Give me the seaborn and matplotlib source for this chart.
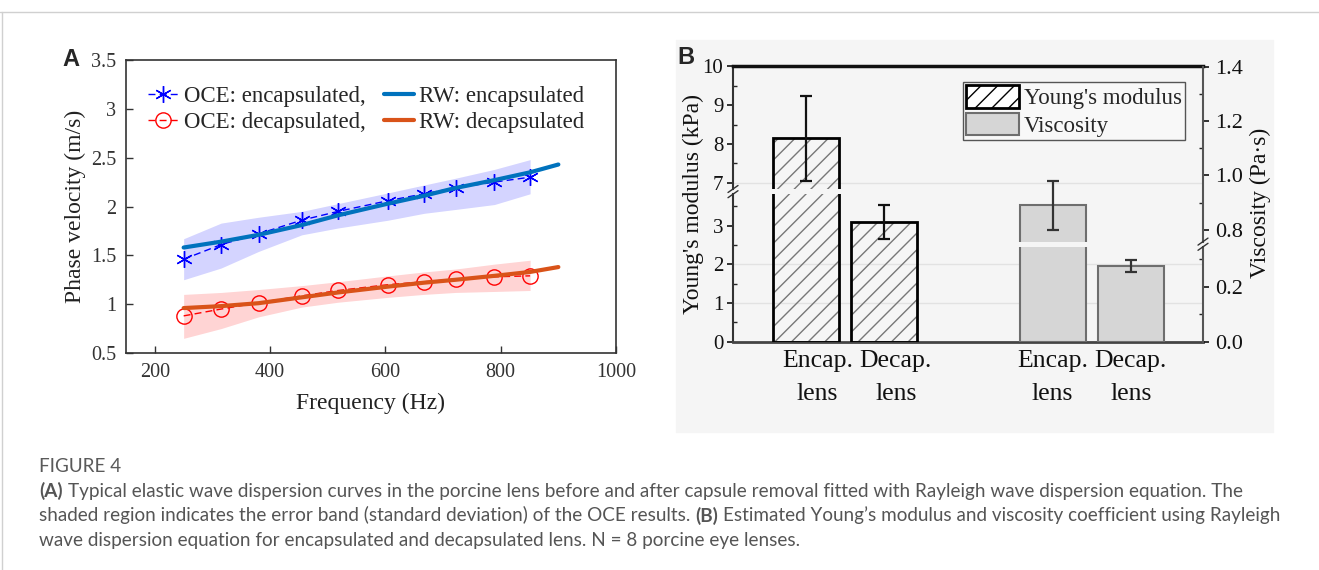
import numpy as np
import pandas as pd
import seaborn as sns
import matplotlib.pyplot as plt
from matplotlib.lines import Line2D
from matplotlib.patches import Patch, Rectangle
from matplotlib.ticker import FuncFormatter

# ---- panel A: dispersion curves ----
freq = [250, 315, 380, 455, 518, 605, 667, 722, 789, 851]
oce_enc = [1.46, 1.61, 1.72, 1.86, 1.95, 2.06, 2.13, 2.19, 2.25, 2.30]
oce_enc_hi = [1.67, 1.83, 1.89, 1.95, 2.03, 2.14, 2.22, 2.29, 2.38, 2.48]
oce_enc_lo = [1.25, 1.37, 1.54, 1.71, 1.78, 1.86, 1.93, 1.97, 2.02, 2.13]
oce_dec = [0.88, 0.95, 1.015, 1.085, 1.14, 1.20, 1.23, 1.255, 1.28, 1.29]
oce_dec_hi = [1.10, 1.12, 1.15, 1.19, 1.23, 1.29, 1.33, 1.36, 1.41, 1.45]
oce_dec_lo = [0.65, 0.75, 0.87, 0.97, 1.02, 1.07, 1.10, 1.12, 1.13, 1.14]
rw_freq = [250, 315, 380, 455, 518, 605, 667, 722, 789, 851, 900]
rw_enc = [1.58, 1.64, 1.71, 1.81, 1.91, 2.03, 2.11, 2.19, 2.27, 2.35, 2.43]
rw_dec = [0.96, 0.98, 1.01, 1.07, 1.12, 1.18, 1.22, 1.25, 1.29, 1.33, 1.38]

# ---- panel B: moduli ----
bar_labels = ['Encap.\nlens', 'Decap.\nlens', 'Encap.\nlens', 'Decap.\nlens']
youngs = [8.15, 3.10]
youngs_err = [1.10, 0.44]
visc = [0.89, 0.275]
visc_err = [0.09, 0.022]
grid_lines = [1, 2, 7]

caption_title = 'FIGURE 4'
caption_lines = [
    [('(A)', True), ('Typical elastic wave dispersion curves in the porcine lens before and after capsule removal fitted with Rayleigh wave dispersion equation. The', False)],
    [('shaded region indicates the error band (standard deviation) of the OCE results.', False), ('(B)', True),
     ('Estimated Young\u2019s modulus and viscosity coefficient using Rayleigh', False)],
    [('wave dispersion equation for encapsulated and decapsulated lens. N = 8 porcine eye lenses.', False)],
]

sns.set_theme(style='white')
plt.rcParams['font.family'] = ['Liberation Serif', 'DejaVu Serif']
plt.rcParams['hatch.linewidth'] = 1.0

W, H = 1319, 570
fig = plt.figure(figsize=(W / 100, H / 100), dpi=100)


def px_box(l, t, r, b):
    return [l / W, 1 - b / H, (r - l) / W, (b - t) / H]


# page frame + panel B background
fig.add_artist(Line2D([0, 1], [1 - 12 / H] * 2, color='#d0d0d0', lw=1))
fig.add_artist(Line2D([1.5 / W] * 2, [0, 1 - 12 / H], color='#d0d0d0', lw=1))
fig.add_artist(Rectangle((676 / W, 1 - 432 / H), 597 / W, 392 / H, color='#f5f5f5', zorder=-5))

# ================= panel A =================
axA = fig.add_axes(px_box(126, 60, 616, 353))
axA.fill_between(freq, oce_enc_lo, oce_enc_hi, color='#0000ff', alpha=0.17, lw=0)
axA.fill_between(freq, oce_dec_lo, oce_dec_hi, color='#ff0000', alpha=0.17, lw=0)
sns.lineplot(x=freq, y=oce_enc, ax=axA, color='blue', linestyle=(0, (5, 3)), lw=1,
             marker=(6, 2, 0), markersize=12, markeredgecolor='blue', markeredgewidth=1,
             label='OCE: encapsulated,')
sns.lineplot(x=freq, y=oce_dec, ax=axA, color='red', linestyle=(0, (5, 3)), lw=1,
             marker='o', markersize=11, markerfacecolor='none', markeredgecolor='red',
             markeredgewidth=1, label='OCE: decapsulated,')
sns.lineplot(x=rw_freq, y=rw_enc, ax=axA, color='#0072BD', lw=3, label='RW: encapsulated')
sns.lineplot(x=rw_freq, y=rw_dec, ax=axA, color='#D95319', lw=3, label='RW: decapsulated')

axA.set_xlim(150, 1000)
axA.set_ylim(0.5, 3.5)
axA.set_xticks([200, 400, 600, 800, 1000])
axA.set_yticks(np.arange(0.5, 3.51, 0.5))
axA.yaxis.set_major_formatter(FuncFormatter(lambda v, p: '%g' % v))
axA.tick_params(axis='both', which='major', direction='in', length=5, width=1,
                bottom=True, left=True, labelsize=14.5, colors='#333', pad=7)
for s in axA.spines.values():
    s.set_color('#333')
    s.set_linewidth(1.2)
axA.set_xlabel('Frequency (Hz)', fontsize=17, color='#222', va='center')
axA.xaxis.set_label_coords(0.5, (353 - 403) / 293)
axA.set_ylabel('Phase velocity (m/s)', fontsize=17, color='#222', va='center')
axA.yaxis.set_label_coords((75 - 126) / 490, 0.5)

h, l = axA.get_legend_handles_labels()
axA.legend(h, l, ncol=2, loc='upper left', bbox_to_anchor=(148 / W, 1 - 86 / H),
           bbox_transform=fig.transFigure, frameon=False, fontsize=16.5,
           handlelength=1.3, handletextpad=0.25, columnspacing=0.8,
           labelspacing=0.22, borderpad=0, borderaxespad=0)

fig.text(62 / W, 1 - 65.5 / H, 'A', fontsize=17, fontweight='bold',
         family='Liberation Sans', va='baseline')

# ================= panel B (broken axes) =================
bar_x = [0.93, 1.93, 4.08, 5.08]
tick_x = [1.08, 2.08, 4.08, 5.08]
bar_w = 0.84

ax_yl = fig.add_axes(px_box(733, 194, 1203, 341.7))
ax_yu = fig.add_axes(px_box(733, 66.5, 1203, 189.3))
ax_vl = fig.add_axes(px_box(733, 246.7, 1203, 341.7))
ax_vu = fig.add_axes(px_box(733, 66.5, 1203, 241.7))
axes_b = [ax_yl, ax_yu, ax_vl, ax_vu]

ax_yl.set_ylim(0, 3.817)
ax_yu.set_ylim(6.835, 10)
ax_vl.set_ylim(0, 0.3455)
ax_vu.set_ylim(0.757, 1.4)

for ax in axes_b:
    ax.set_xlim(0, 6)
    ax.patch.set_visible(False)
    for s in ax.spines.values():
        s.set_visible(False)
    ax.tick_params(axis='x', bottom=False, labelbottom=False)

for ax in (ax_yl, ax_yu):
    for g in grid_lines:
        ax.axhline(g, color='#e2e2e2', lw=1, zorder=0)
    ax.bar(bar_x[:2], youngs, bar_w, color='none', edgecolor='#777', hatch='//', lw=0, zorder=2)
    ax.bar(bar_x[:2], youngs, bar_w, fill=False, edgecolor='black', lw=2, zorder=3)
    ax.errorbar(bar_x[:2], youngs, yerr=youngs_err, fmt='none', ecolor='#111',
                elinewidth=1.6, capsize=4, capthick=1.6, zorder=4)
    ax.spines['left'].set_visible(True)
    ax.spines['left'].set_color('#333')
    ax.spines['left'].set_linewidth(1.5)
    ax.tick_params(axis='y', which='major', direction='out', length=4, width=1.2,
                   left=True, labelsize=15, colors='#111', pad=3)
    ax.tick_params(axis='y', which='minor', direction='in', length=3, width=1, left=True)

ax_yl.set_yticks([0, 1, 2, 3])
ax_yl.set_yticks([0.5, 1.5, 2.5, 3.5], minor=True)
ax_yu.set_yticks([7, 8, 9, 10])
ax_yu.set_yticks([7.5, 8.5, 9.5], minor=True)
ax_yl.spines['bottom'].set_visible(True)
ax_yl.spines['bottom'].set_color('#444')
ax_yl.spines['bottom'].set_linewidth(2)
ax_yu.spines['top'].set_visible(True)
ax_yu.spines['top'].set_color('#111')
ax_yu.spines['top'].set_linewidth(2.5)

for ax in (ax_vl, ax_vu):
    ax.bar(bar_x[2:], visc, bar_w, color='#d6d6d6', edgecolor='#6e6e6e', lw=1.5, zorder=2)
    ax.errorbar(bar_x[2:], visc, yerr=visc_err, fmt='none', ecolor='#333',
                elinewidth=1.6, capsize=4, capthick=1.6, zorder=4)
    ax.yaxis.tick_right()
    ax.spines['right'].set_visible(True)
    ax.spines['right'].set_color('#555')
    ax.spines['right'].set_linewidth(1.5)
    ax.yaxis.set_major_formatter(FuncFormatter(lambda v, p: '%.1f' % v))
    ax.tick_params(axis='y', which='major', direction='out', length=4, width=1.2,
                   right=True, left=False, labelsize=16, colors='#111', pad=5)
    ax.tick_params(axis='y', which='minor', direction='in', length=3, width=1,
                   right=True, left=False)

ax_vl.set_yticks([0.0, 0.2])
ax_vl.set_yticks([0.1, 0.3], minor=True)
ax_vu.set_yticks([0.8, 1.0, 1.2, 1.4])
ax_vu.set_yticks([0.9, 1.1, 1.3], minor=True)

ax_yl.set_xticks(tick_x)
ax_yl.set_xticklabels(bar_labels, fontsize=18.5, linespacing=1.65)
ax_yl.tick_params(axis='x', bottom=True, labelbottom=True, length=0, pad=6, colors='#111')

# break marks on both vertical axes
for xb, yb in ((733, 191.6), (1203, 244.2)):
    for dy in (-2.6, 2.6):
        yc = yb + dy
        fig.add_artist(Line2D([(xb - 5) / W, (xb + 5) / W],
                              [1 - (yc + 3.5) / H, 1 - (yc - 3.5) / H],
                              color='#333', lw=1))

fig.text(693 / W, 1 - 204 / H, "Young's modulus (kPa)", rotation=90, ha='center',
         va='center', fontsize=17, color='#111')
fig.text(1260 / W, 1 - 203 / H, 'Viscosity (Pa\u00b7s)', rotation=90, ha='center',
         va='center', fontsize=17, color='#111')

leg_handles = [Patch(facecolor='white', edgecolor='black', hatch='//', lw=2),
               Patch(facecolor='#d6d6d6', edgecolor='#6e6e6e', lw=1.5)]
legB = ax_yu.legend(leg_handles, ["Young's modulus", 'Viscosity'], loc='upper left',
                    bbox_to_anchor=(963 / W, 1 - 81.7 / H), bbox_transform=fig.transFigure,
                    fontsize=16.5, frameon=True, fancybox=False, edgecolor='#555',
                    framealpha=1, handlelength=2.3, handleheight=1.15, handletextpad=0.2,
                    labelspacing=0.15, borderpad=0.15, borderaxespad=0)
legB.get_frame().set_linewidth(1)
legB.get_frame().set_facecolor('#f8f8f8')

fig.text(677 / W, 1 - 64 / H, 'B', fontsize=17, fontweight='bold',
         family='Liberation Sans', va='baseline')

# ================= caption =================
cap_font = 'Lato'
cap_size = 13.6
r = fig.canvas.get_renderer()
t1 = fig.text(0, 0, 'x x', fontsize=cap_size, family=cap_font)
t2 = fig.text(0, 0, 'xx', fontsize=cap_size, family=cap_font)
space_w = t1.get_window_extent(r).width - t2.get_window_extent(r).width
t1.remove()
t2.remove()

fig.text(39 / W, 1 - 472 / H, caption_title, fontsize=cap_size, family=cap_font,
         color='#5a5a5a', va='baseline')
for i, runs in enumerate(caption_lines):
    y = 497 + i * 24.5
    x = 39
    for txt, bold in runs:
        t = fig.text(x / W, 1 - y / H, txt, fontsize=cap_size, family=cap_font,
                     color='#555', fontweight='bold' if bold else 'normal', va='baseline')
        x += t.get_window_extent(r).width + space_w

fig.savefig('out.png', dpi=100)
